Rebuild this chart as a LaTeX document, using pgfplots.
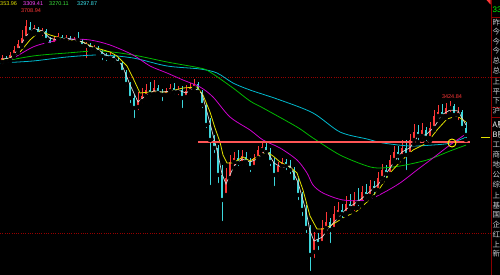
\documentclass[border=0pt]{standalone}
\usepackage{pgfplots}
\usepackage{pgfplotstable}
\pgfplotsset{compat=1.18}
\usepackage{fontspec}
\setmainfont{Liberation Sans}
\newfontfamily\cjk{Noto Sans CJK SC}
\definecolor{upred}{RGB}{255,55,55}
\definecolor{dncyan}{RGB}{60,215,220}
\definecolor{ma5}{RGB}{215,215,215}
\definecolor{ma10}{RGB}{225,225,0}
\definecolor{ma60}{RGB}{205,0,205}
\definecolor{ma120}{RGB}{0,185,0}
\definecolor{ma250}{RGB}{0,185,205}
\definecolor{gridred}{RGB}{150,0,0}
\definecolor{panelred}{RGB}{140,0,0}
\definecolor{hline}{RGB}{255,85,85}
\definecolor{lbl}{RGB}{200,200,205}
\pgfplotstableread{
i o h l c
0 3561 3585.5 3547 3575
1 3575 3582 3557.5 3564.5
2 3568 3596 3561 3585.5
3 3585.5 3617 3578.5 3603
4 3603 3638 3592.5 3624
5 3620.5 3673 3613.5 3645
6 3645 3708.94 3638 3687
7 3683.5 3701 3655.5 3666
8 3669.5 3690.5 3659 3680
9 3676.5 3683.5 3652 3659
10 3662.5 3680 3645 3673
11 3669.5 3676.5 3631 3638
12 3638 3648.5 3610 3620.5
13 3624 3652 3617 3641.5
14 3641.5 3662.5 3631 3652
15 3648.5 3655.5 3627.5 3638
16 3638 3655.5 3631 3645
17 3645 3652 3620.5 3631
18 3631 3648.5 3620.5 3641.5
19 3641.5 3666 3627.5 3638
20 3634.5 3641.5 3606.5 3617
21 3617 3631 3568 3624
22 3620.5 3627.5 3596 3606.5
23 3606.5 3620.5 3599.5 3613.5
24 3610 3617 3585.5 3596
25 3596 3603 3561 3582
26 3582 3592.5 3557.5 3575
27 3575 3596 3568 3585.5
28 3582 3589 3554 3568
29 3568 3578.5 3547 3557.5
30 3557.5 3561 3515.5 3526
31 3526 3533 3470 3484
32 3484 3491 3410.5 3435
33 3435 3445.5 3358 3400
34 3403.5 3456 3386 3428
35 3424.5 3470 3410.5 3442
36 3442 3484 3428 3463
37 3463 3491 3435 3449
38 3449 3498 3438.5 3470
39 3470 3480.5 3442 3452.5
40 3452.5 3466.5 3417.5 3445.5
41 3445.5 3470 3435 3459.5
42 3459.5 3484 3445.5 3470
43 3470 3487.5 3442 3456
44 3456 3477 3438.5 3463
45 3463 3477 3393 3435
46 3438.5 3480.5 3428 3459.5
47 3459.5 3487.5 3449 3470
48 3470 3501.5 3456 3484
49 3484 3491 3445.5 3456
50 3456 3463 3393 3410.5
51 3410.5 3417.5 3323 3340.5
52 3340.5 3365 3123.5 3288
53 3288 3305.5 3235.5 3260
54 3260 3270.5 3130.5 3165.5
55 3165.5 3200.5 2997.5 3078
56 3095.5 3190 3085 3155
57 3155 3235.5 3141 3211
58 3211 3246 3190 3225
59 3225 3253 3190 3207.5
60 3207.5 3253 3193.5 3232
61 3228.5 3246 3197 3211
62 3211 3225 3169 3190
63 3193.5 3239 3183 3225
64 3225 3267 3218 3253
65 3253 3277.5 3235.5 3263.5
66 3263.5 3281 3232 3246
67 3246 3260 3190 3211
68 3211 3225 3120 3165.5
69 3169 3211 3155 3197
70 3197 3225 3183 3211
71 3211 3221.5 3176 3197
72 3197 3218 3162 3183
73 3183 3193.5 3127 3141
74 3141 3155 3071 3095.5
75 3095.5 3106 3015 3043
76 3043 3060.5 2955.5 2980
77 2980 2990.5 2822.5 2885.5
78 2896 2966 2868 2938
79 2938 2962.5 2896 2924
80 2927.5 3008 2917 2980
81 2980 3036 2966 3001
82 3001 3015 2920.5 2973
83 2976.5 3057 2966 3029
84 3029 3071 3015 3043
85 3043 3064 3008 3029
86 3032.5 3092 3022 3064
87 3064 3099 3036 3050
88 3050 3106 3032.5 3078
89 3078 3120 3050 3067.5
90 3067.5 3127 3057 3106
91 3106 3134 3078 3092
92 3092 3148 3081.5 3127
93 3127 3144.5 3088.5 3113
94 3113 3176 3102.5 3155
95 3155 3204 3141 3183
96 3183 3200.5 3148 3169
97 3169 3235.5 3162 3218
98 3218 3267 3207.5 3246
99 3246 3267 3211 3232
100 3232 3288 3218 3260
101 3260 3288 3176 3235.5
102 3239 3309 3228.5 3288
103 3288 3344 3274 3316
104 3316 3340.5 3281 3302
105 3302 3347.5 3288 3323
106 3323 3333.5 3277.5 3295
107 3295 3351 3284.5 3330
108 3330 3393 3323 3372
109 3372 3410.5 3358 3386
110 3386 3414 3358 3372
111 3372 3417.5 3365 3400
112 3400 3424.84 3379 3407
113 3407 3414 3365 3375.5
114 3375.5 3403.5 3351 3386
115 3386 3393 3316 3330
116 3330 3351 3288 3305.5
}\candles
\begin{document}
\begin{tikzpicture}
\useasboundingbox (0,0) rectangle (500pt,275pt);
\fill[black] (0,0) rectangle (500pt,275pt);
\begin{axis}[at={(0pt,0pt)}, anchor=south west, scale only axis,
  width=491pt, height=275pt, xmin=-0.5, xmax=122.25, ymin=2815.5, ymax=3778,
  hide axis, clip=true]
% grid
\addplot[gridred, line width=0.6pt, dash pattern=on 0.7pt off 1.6pt] coordinates {(-0.5,3508.5) (122.25,3508.5)};
\addplot[gridred, line width=0.6pt, dash pattern=on 0.7pt off 1.6pt] coordinates {(-0.5,2962.5) (122.25,2962.5)};
% wicks up
\addplot[only marks, mark=none, restrict expr to domain={\thisrow{c}-\thisrow{o}}{0:100000},
  error bars/.cd, y dir=plus, y explicit, error mark=none,
  error bar style={draw=upred, line width=0.7pt}]
  table[x=i, y=l, y error expr=\thisrow{h}-\thisrow{l}] {\candles};
% wicks down
\addplot[only marks, mark=none, restrict expr to domain={\thisrow{c}-\thisrow{o}}{-100000:-0.001},
  error bars/.cd, y dir=plus, y explicit, error mark=none,
  error bar style={draw=dncyan, line width=0.7pt}]
  table[x=i, y=l, y error expr=\thisrow{h}-\thisrow{l}] {\candles};
% bodies up
\addplot[only marks, mark=none, restrict expr to domain={\thisrow{c}-\thisrow{o}}{0:100000},
  error bars/.cd, y dir=plus, y explicit, error mark=none,
  error bar style={draw=upred, line width=2.5pt}]
  table[x=i, y expr={min(\thisrow{o},\thisrow{c})}, y error expr={abs(\thisrow{c}-\thisrow{o})+1}] {\candles};
% bodies down
\addplot[only marks, mark=none, restrict expr to domain={\thisrow{c}-\thisrow{o}}{-100000:-0.001},
  error bars/.cd, y dir=plus, y explicit, error mark=none,
  error bar style={draw=dncyan, line width=2.5pt}]
  table[x=i, y expr={min(\thisrow{o},\thisrow{c})}, y error expr={abs(\thisrow{c}-\thisrow{o})+1}] {\candles};
% MA250
\addplot[ma250, line width=0.8pt, smooth] coordinates {(-0.5,3557.5) (7.75,3564.5) (16.25,3578.5) (24.5,3585.5) (32.75,3575) (41.25,3547) (49.5,3536.5) (53.75,3522.5) (57.75,3487.5) (62,3463) (69.5,3428) (77.75,3382.5) (84.5,3316) (91.25,3291.5) (95.25,3277.5) (102,3267) (107.75,3270.5) (112,3277) (116,3297.87)};
% MA120
\addplot[ma120, line width=0.8pt, smooth] coordinates {(-0.5,3561) (7.75,3582) (16.25,3592.5) (24.5,3599.5) (32.75,3585.5) (41.25,3561) (49.5,3540) (52,3526) (57.75,3470) (62,3424.5) (65.25,3400) (73.75,3333.5) (77.75,3295) (84.5,3235.5) (91.25,3197) (94.5,3190) (99.5,3197) (106.25,3218) (112,3249.5) (116,3270.11)};
% MA60
\addplot[ma60, line width=0.8pt, smooth] coordinates {(0,3561) (2,3568) (7.75,3613.5) (12,3631) (16.25,3641.5) (22,3638) (27,3620.5) (32.75,3585.5) (37,3547) (41.25,3522.5) (45.25,3498) (49.5,3473.5) (52.75,3438.5) (57,3368.5) (62,3323) (65.25,3288) (69.5,3260) (73.75,3218) (76.25,3172.5) (77.75,3130.5) (80.25,3102.5) (85.25,3078) (91.25,3078) (95.25,3102.5) (99.5,3137.5) (103.75,3183) (107.75,3225) (112,3270.5) (116,3309.41)};
% MA10
\addplot[ma10, line width=0.8pt] coordinates {(0,3568) (2,3575) (4.5,3596) (7,3638) (9.5,3669.5) (12,3655.5) (16.25,3638) (20.25,3631) (22.75,3613.5) (27,3596) (28.75,3582) (31.25,3547) (32.75,3505) (34.5,3452.5) (37,3456) (41.25,3456) (45.25,3470) (48.75,3473.5) (50.25,3445.5) (52,3386) (53.25,3330) (54.5,3281) (55.25,3235.5) (56.25,3207.5) (57.75,3207.5) (60.25,3228.5) (62,3214.5) (63.75,3228.5) (66.25,3246) (67.75,3232) (69.5,3211) (72,3193.5) (73.75,3172.5) (75.25,3113) (77,3022) (78.75,2976.5) (80.25,2976.5) (82,2987) (85.25,3015) (88.75,3039.5) (91.25,3071) (94.5,3120) (97,3172.5) (99.5,3211) (102.75,3253) (106.25,3277.5) (108.75,3323) (111.25,3361.5) (113.75,3372) (115.25,3358) (116,3351)};
% MA5
\addplot[ma5, line width=0.7pt] coordinates {(0,3571.5) (2,3575) (4,3604) (6,3652) (8,3677.5) (10,3670.5) (12,3644) (14,3638) (16,3645) (18,3639) (20,3632) (22,3616) (24,3605.5) (26,3584.5) (28,3576) (30,3550.5) (32,3481.5) (34,3421) (36,3444.5) (38,3460.5) (40,3456) (42,3458.5) (44,3463) (46,3452.5) (48,3471) (50,3450) (52,3346.5) (54,3238) (55,3169) (56,3134) (58,3197) (60,3221.5) (62,3211) (64,3222.5) (66,3254) (68,3207.5) (70,3191) (72,3197) (74,3140) (76,3039.5) (77,2969.5) (78,2934.5) (80,2947.5) (82,2984.5) (84,3015) (86,3045.5) (88,3064) (90,3084) (92,3108.5) (94,3131.5) (96,3169) (98,3211) (100,3246) (102,3261) (104,3302) (106,3306.5) (108,3332.5) (110,3376.5) (112,3393) (114,3389.5) (116,3340.5)};
% drawn horizontal line
\addplot[hline, line width=1.5pt] coordinates {(49,3281) (117,3281)};
% circle
\addplot[only marks, mark=o, mark size=4pt, mark options={draw=yellow, line width=0.9pt}] coordinates {(112.5,3277.5)};
% high labels
\node[text=upred, font=\fontsize{5.5}{6}\selectfont, inner sep=0] at (axis cs:7.25,3741.25) {3708.94};
\node[text=upred, font=\fontsize{5.5}{6}\selectfont, inner sep=0] at (axis cs:112.5,3438.5) {3424.84};
\end{axis}
% header
\node[anchor=west, inner sep=0, text=ma10, font=\fontsize{5.5}{6}\selectfont] at (0pt,271.5pt) {353.96};
\node[anchor=west, inner sep=0, text={rgb,255:red,255;green,70;blue,255}, font=\fontsize{5.5}{6}\selectfont] at (23pt,271.5pt) {3309.41};
\node[anchor=west, inner sep=0, text={rgb,255:red,60;green,230;blue,60}, font=\fontsize{5.5}{6}\selectfont] at (49pt,271.5pt) {3270.11};
\node[anchor=west, inner sep=0, text={rgb,255:red,60;green,230;blue,240}, font=\fontsize{5.5}{6}\selectfont] at (77pt,271.5pt) {3297.87};
% price marker
\draw[ma10, line width=0.8pt] (481pt,138pt) -- (490pt,138pt);
\fill[upred] (486.5pt,275pt) -- (490.5pt,275pt) -- (490.5pt,270.5pt) -- cycle;
% right panel
\begin{scope}
\clip (491pt,0pt) rectangle (500pt,275pt);
\draw[panelred, line width=0.8pt] (491.4pt,0pt) -- (491.4pt,275pt);
\foreach \yy in {258,198,168,158} \draw[panelred, line width=0.6pt] (491pt,\yy pt) -- (500pt,\yy pt);
\node[anchor=west, inner sep=0, text={rgb,255:red,0;green,255;blue,0}, font=\fontsize{8}{9}\selectfont] at (492.5pt,265pt) {3305.50};
\begin{scope}[every node/.style={anchor=west, inner sep=0, text=lbl, font=\cjk\fontsize{7.5}{8}\selectfont}]
\node at (492.5pt,252pt) {昨收};
\node at (492.5pt,243pt) {今开};
\node at (492.5pt,233pt) {今高};
\node at (492.5pt,224pt) {今低};
\node at (492.5pt,214pt) {总量};
\node at (492.5pt,204pt) {总额};
\node at (492.5pt,193pt) {上涨};
\node at (492.5pt,183pt) {平盘};
\node at (492.5pt,174pt) {下跌};
\node at (492.5pt,164pt) {沪深};
\node[text=white] at (492.5pt,150pt) {A股};
\node[text=white] at (492.5pt,140pt) {B股};
\node at (492.5pt,130pt) {工业};
\node at (492.5pt,120pt) {商业};
\node at (492.5pt,110pt) {地产};
\node at (492.5pt,100pt) {公用};
\node at (492.5pt,90pt) {综合};
\node at (492.5pt,79pt) {上证};
\node at (492.5pt,69pt) {基金};
\node at (492.5pt,60pt) {国债};
\node at (492.5pt,50pt) {企债};
\node at (492.5pt,40pt) {红利};
\node at (492.5pt,30pt) {上证};
\node at (492.5pt,21pt) {新综};
\end{scope}
\end{scope}
\end{tikzpicture}
\end{document}
